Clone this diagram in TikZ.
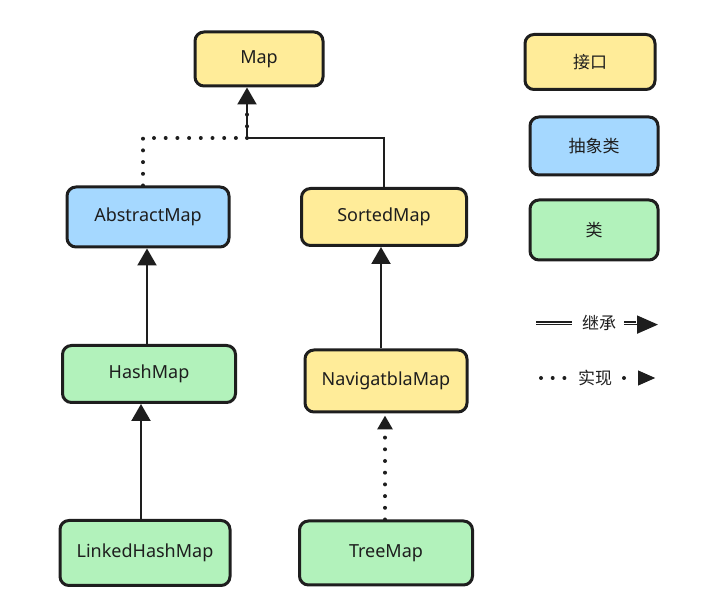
\documentclass[tikz,border=0pt]{standalone}
\usepackage{fontspec}
\setmainfont{Noto Sans}
\newfontfamily\cjk{Noto Sans CJK SC}
\usetikzlibrary{arrows.meta}
\definecolor{ink}{HTML}{1E1E1E}
\definecolor{yel}{HTML}{FFEC99}
\definecolor{blu}{HTML}{A5D8FF}
\definecolor{grn}{HTML}{B2F2BB}
\tikzset{
  box/.style={draw=ink, line width=3pt, rounded corners=9pt, text=ink,
    font=\fontsize{18}{21}\selectfont, inner sep=0pt},
  iface/.style={box, fill=yel},
  abst/.style={box, fill=blu},
  cls/.style={box, fill=grn},
  conn/.style={draw=ink, line width=2.2pt},
  inh/.style={conn, -{Triangle[length=17pt,width=19pt]}},
  dotline/.style={draw=ink, line width=4pt, line cap=round, dash pattern=on 0pt off 11.7pt},
  legtxt/.style={text=ink, font=\cjk\fontsize{17}{20}\selectfont, inner sep=0pt}
}
\begin{document}
\begin{tikzpicture}[x=1pt,y=-1pt]
\useasboundingbox (0,0) rectangle (716,609);
% main nodes
\node[iface, minimum width=128pt, minimum height=54pt] (map) at (259,59) {Map};
\node[abst, minimum width=162pt, minimum height=60pt] (abs) at (148,217) {AbstractMap};
\node[iface, minimum width=165pt, minimum height=57pt] (sorted) at (384,217) {SortedMap};
\node[cls, minimum width=173pt, minimum height=57pt] (hash) at (149,374) {HashMap};
\node[iface, minimum width=162pt, minimum height=62pt] (nav) at (386,381) {NavigatblaMap};
\node[cls, minimum width=170pt, minimum height=65pt] (linked) at (145,553) {LinkedHashMap};
\node[cls, minimum width=173pt, minimum height=64pt] (tree) at (386,553) {TreeMap};
% legend nodes
\node[iface, minimum width=130pt, minimum height=55pt, font=\cjk\fontsize{17}{20}\selectfont] (lif) at (590,62) {接口};
\node[abst, minimum width=128pt, minimum height=58pt, font=\cjk\fontsize{17}{20}\selectfont] (labs) at (594,146) {抽象类};
\node[cls, minimum width=128pt, minimum height=60pt, font=\cjk\fontsize{17}{20}\selectfont] (lcls) at (594,230) {类};
% connectors
\coordinate (j) at (247,138);
\draw[dotline] (abs.north -| 143,0) |- (j);
\draw[dotline] (j) -- (247,104);
\draw[conn] (sorted.north) |- (j);
\draw[inh] (j) -- (j |- map.south);
\draw[inh] (hash.north -| 147,0) -- (147,0 |- abs.south);
\draw[inh] (nav.north -| 381,0) -- (381,0 |- sorted.south);
\draw[inh] (linked.north -| 141,0) -- (141,0 |- hash.south);
\draw[dotline] (tree.north -| 385,0) -- (385,430);
\draw[inh, draw opacity=0] (385,432) -- (385,0 |- nav.south);
% legend lines
\node[legtxt] (tinh) at (599,323) {继承};
\node[legtxt] (timp) at (595,378) {实现};
\coordinate (a1) at (536,323);
\coordinate (a2) at (572,323);
\coordinate (a3) at (624,323);
\coordinate (a4) at (658,323);
\draw[conn, line width=1.8pt] (a1 |- 0,322) -- (a2 |- 0,322);
\draw[conn, line width=1.8pt] (a1 |- 0,324.6) -- (a2 |- 0,324.6);
\draw[conn, line width=1.8pt] (a3 |- 0,322) -- (636,322);
\draw[conn, line width=1.8pt, -{Triangle[length=21pt,width=18pt]}] (a3 |- 0,324.6) -- (a4 |- 0,324.6);
\coordinate (b1) at (541,378);
\coordinate (b2) at (567,378);
\coordinate (b3) at (624,378);
\coordinate (b4) at (658,378);
\draw[dotline] (b1) -- (b2);
\fill[ink] (b3) circle (2pt);
\draw[conn, draw opacity=0, -{Triangle[length=21pt,width=18pt,fill=ink]}] (b3) -- (b4);
\end{tikzpicture}
\end{document}
